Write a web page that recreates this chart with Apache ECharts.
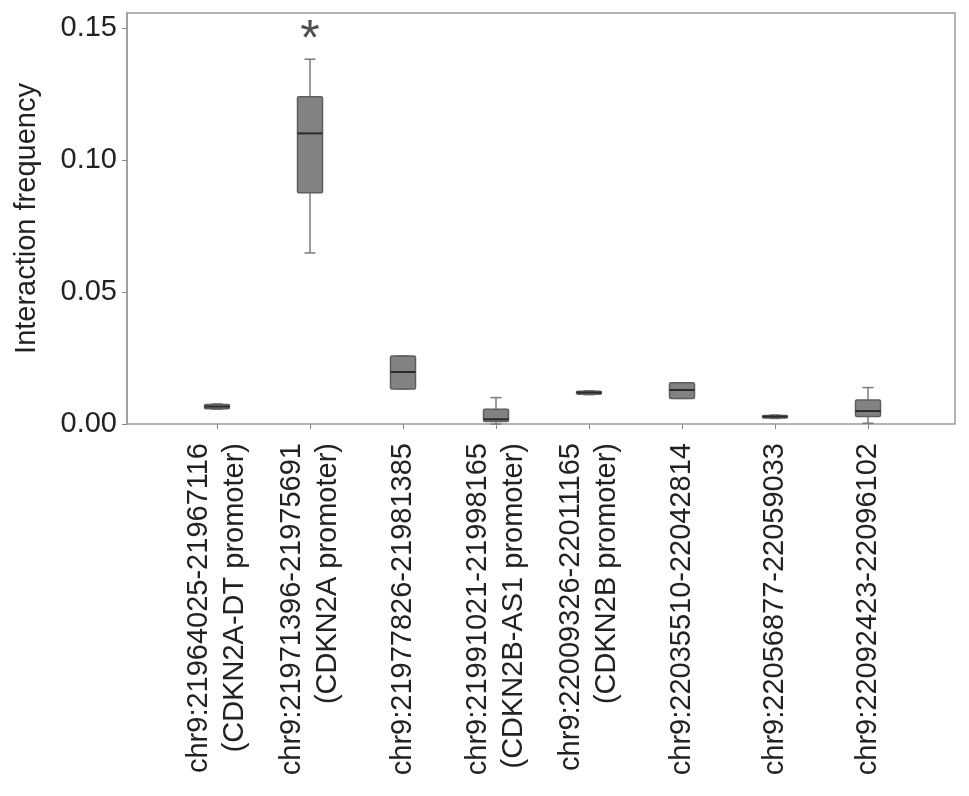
<!DOCTYPE html>
<html><head><meta charset="utf-8">
<script src="https://cdn.jsdelivr.net/npm/echarts@6/dist/echarts.min.js"></script>
<style>html,body{margin:0;padding:0;background:#fff}#c{width:969px;height:796px}</style>
</head><body><div id="c"></div>
<script>
const categories = [
  'chr9:21964025-21967116\n(CDKN2A-DT promoter)',
  'chr9:21971396-21975691\n(CDKN2A promoter)',
  'chr9:21977826-21981385',
  'chr9:21991021-21998165\n(CDKN2B-AS1 promoter)',
  'chr9:22009326-22011165\n(CDKN2B promoter)',
  'chr9:22035510-22042814',
  'chr9:22056877-22059033',
  'chr9:22092423-22096102'
];
const mins    = [0.0056, 0.0648, 0.0133, 0.0000, 0.0111, 0.0097, 0.0021, 0.0003];
const q1s     = [0.0058, 0.0876, 0.0133, 0.0009, 0.0113, 0.0097, 0.0023, 0.0028];
const medians = [0.0066, 0.1101, 0.0197, 0.0018, 0.0119, 0.0129, 0.0028, 0.0049];
const q3s     = [0.0074, 0.1240, 0.0258, 0.0056, 0.0124, 0.0156, 0.0032, 0.0091];
const maxs    = [0.0076, 0.1382, 0.0258, 0.0100, 0.0126, 0.0156, 0.0034, 0.0138];
const yTicks  = [0, 0.05, 0.10, 0.15];
const starIndex = 1;
const starValue = 0.145;

const boxData = categories.map((c, i) => [i, mins[i], q1s[i], medians[i], q3s[i], maxs[i]]);
const FONT = 'Liberation Sans, Arial, Helvetica, sans-serif';
const yMax = 0.1557;

const chart = echarts.init(document.getElementById('c'), null, {renderer: 'canvas'});
chart.setOption({
  animation: false,
  backgroundColor: '#fff',
  grid: [
    {left: 127, right: 14, top: 13, bottom: 372, show: true, borderColor: '#9a9a9a', borderWidth: 1.5, backgroundColor: 'transparent'},
    {left: 170.5, right: 54.5, top: 13, bottom: 372}
  ],
  xAxis: [
    {gridIndex: 0, type: 'value', min: 0, max: 1, show: false},
    {gridIndex: 1, type: 'category', data: categories,
     axisLine: {show: false},
     axisTick: {show: true, alignWithLabel: true, length: 5, lineStyle: {color: '#888', width: 1}},
     axisLabel: {rotate: 90, margin: 19, fontSize: 29, fontFamily: FONT, color: '#222', lineHeight: 36, interval: 0}}
  ],
  yAxis: [
    {gridIndex: 0, type: 'value', min: 0, max: yMax,
     name: 'Interaction frequency', nameLocation: 'middle', nameGap: 86, nameRotate: 90,
     nameTextStyle: {fontSize: 29, fontFamily: FONT, color: '#222'},
     axisLine: {show: true, lineStyle: {color: '#9a9a9a', width: 1.5}},
     axisTick: {show: true, length: 5, customValues: yTicks, lineStyle: {color: '#888'}},
     axisLabel: {customValues: yTicks, fontSize: 29, fontFamily: FONT, color: '#222', margin: 10,
                 formatter: v => v.toFixed(2)},
     splitLine: {show: false}},
    {gridIndex: 1, type: 'value', min: 0, max: yMax, show: false}
  ],
  series: [
    {
      type: 'custom', xAxisIndex: 1, yAxisIndex: 1,
      data: boxData,
      renderItem: function (params, api) {
        const i = api.value(0);
        const pMin = api.coord([i, api.value(1)]);
        const pQ1 = api.coord([i, api.value(2)]);
        const pMed = api.coord([i, api.value(3)]);
        const pQ3 = api.coord([i, api.value(4)]);
        const pMax = api.coord([i, api.value(5)]);
        const x = pMed[0];
        const bw = 25, cw = 11;
        const wStyle = {stroke: '#7a7a7a', lineWidth: 1.5};
        return {
          type: 'group',
          children: [
            {type: 'line', shape: {x1: x, y1: pQ3[1], x2: x, y2: pMax[1]}, style: wStyle},
            {type: 'line', shape: {x1: x, y1: pQ1[1], x2: x, y2: pMin[1]}, style: wStyle},
            {type: 'line', shape: {x1: x - cw / 2, y1: pMax[1], x2: x + cw / 2, y2: pMax[1]}, style: wStyle},
            {type: 'line', shape: {x1: x - cw / 2, y1: pMin[1], x2: x + cw / 2, y2: pMin[1]}, style: wStyle},
            {type: 'rect', shape: {x: x - bw / 2, y: pQ3[1], width: bw, height: Math.max(pQ1[1] - pQ3[1], 1), r: 1.5},
             style: {fill: '#828282', stroke: '#5e5e5e', lineWidth: 1.5}},
            {type: 'line', shape: {x1: x - bw / 2, y1: pMed[1], x2: x + bw / 2, y2: pMed[1]}, style: {stroke: '#2a2a2a', lineWidth: 2}}
          ]
        };
      }
    },
    {
      type: 'scatter', xAxisIndex: 1, yAxisIndex: 1, symbolSize: 0,
      data: [[starIndex, starValue]],
      label: {show: true, position: 'inside', formatter: '*', fontSize: 50, fontFamily: FONT, color: '#222'}
    }
  ]
});
</script>
</body></html>
